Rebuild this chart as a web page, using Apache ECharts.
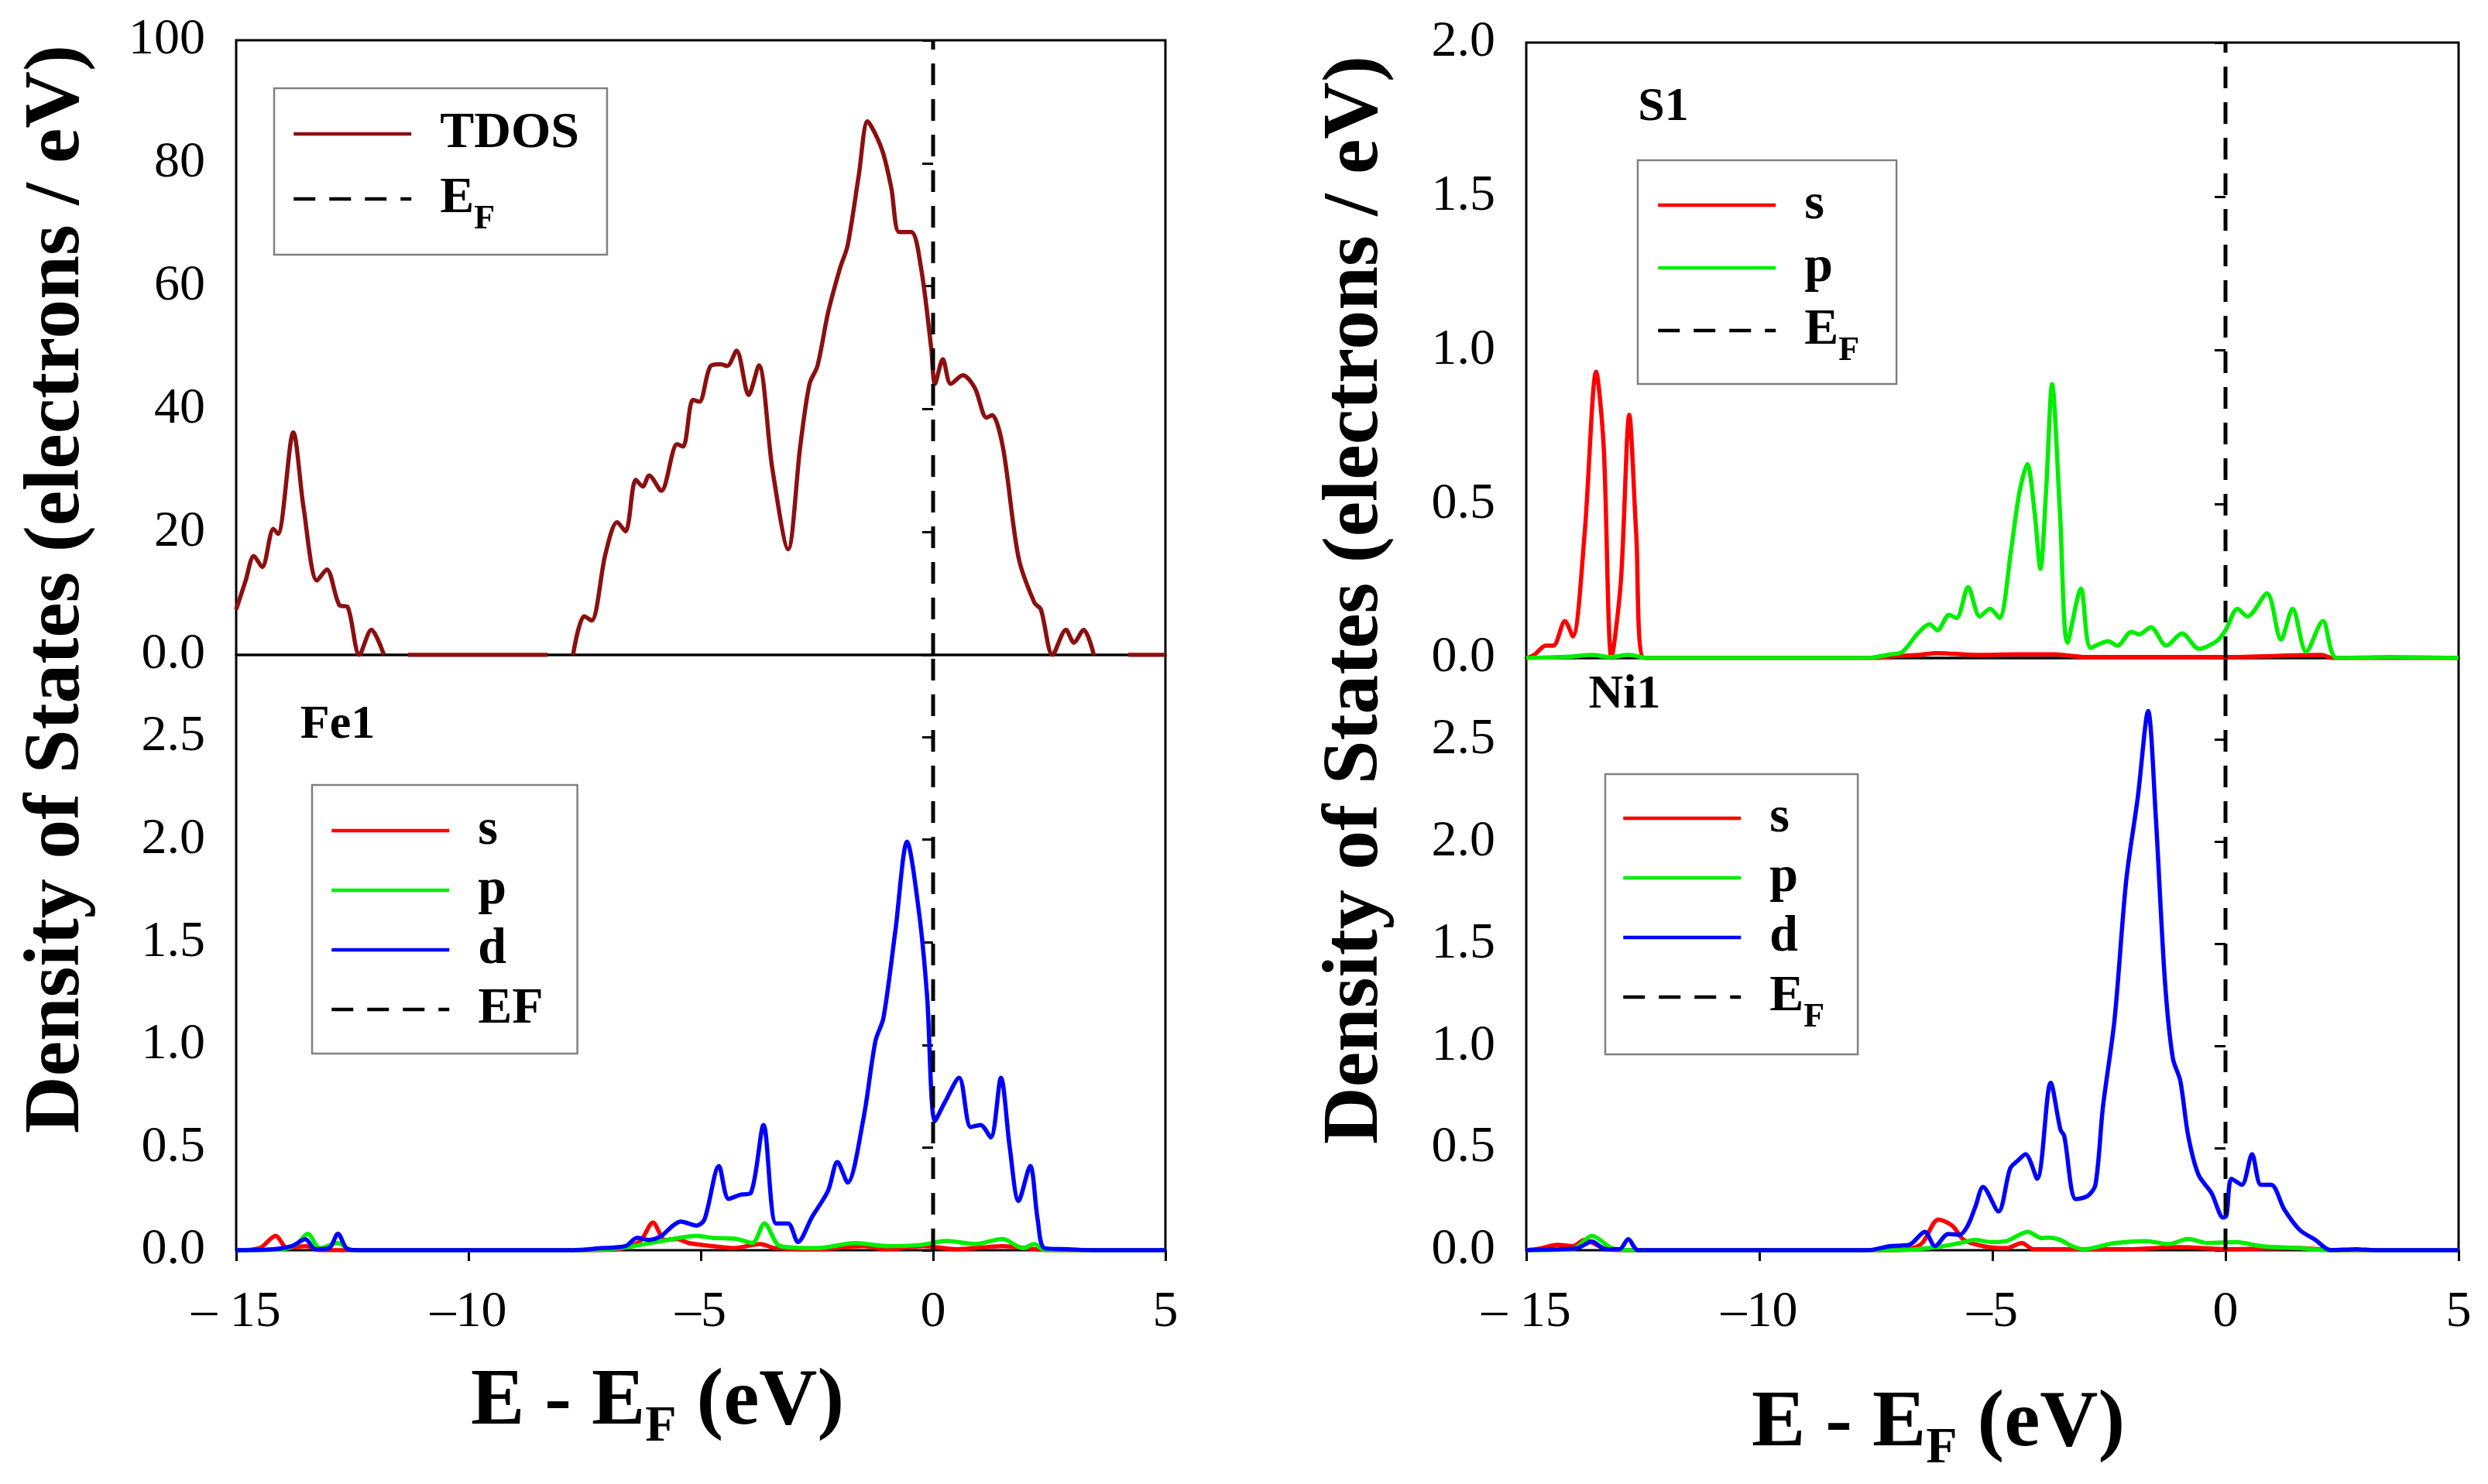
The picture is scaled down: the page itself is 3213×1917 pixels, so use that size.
<!DOCTYPE html>
<html><head><meta charset="utf-8">
<script src="https://cdn.jsdelivr.net/npm/echarts@6/dist/echarts.min.js"></script>
<style>html,body{margin:0;padding:0;background:#fff}#c{width:3213px;height:1917px}</style>
</head><body><div id="c"></div>
<script>
const FONT = '"Liberation Serif","Times New Roman",serif';

// ---- tick labels ----
const xTicks = [-15, -10, -5, 0, 5];
const xTickLabels = ['– 15', '–10', '–5', '0', '5'];
const tdosTicks = [0, 20, 40, 60, 80, 100];
const tdosTickLabels = ['0.0', '20', '40', '60', '80', '100'];
const fermiEnergy = 0;

// ---- data: [E - EF (eV), DOS] ----
const tdos = [[-15,7.4],[-14.8,12],[-14.62,16.1],[-14.44,14.3],[-14.2,20.5],[-14.1,19.7],[-13.77,36.2],[-13.55,24],[-13.26,12.1],[-13.05,13.9],[-12.78,8.1],[-12.6,7.8],[-12.35,0],[-12.09,4.1],[-11.82,0],[-11.5,null],[-11.3,0],[-8.3,0],[-8.0,null],[-7.75,0],[-7.51,6.3],[-7.35,5.6],[-7.05,16.5],[-6.8,21.6],[-6.62,20.1],[-6.4,28.5],[-6.25,27.4],[-6.11,29.2],[-5.85,26.7],[-5.51,34.3],[-5.38,33.9],[-5.17,41.5],[-5.03,41.2],[-4.79,47],[-4.57,47.3],[-4.43,47],[-4.23,49.5],[-3.97,42.3],[-3.75,47.1],[-3.46,30.3],[-3.12,17.2],[-2.86,33.9],[-2.66,44.1],[-2.49,47],[-2.26,55.7],[-2.0,63],[-1.84,66.6],[-1.6,78],[-1.41,86.8],[-1.24,84.7],[-1.07,81.5],[-0.9,76],[-0.73,68.8],[-0.47,68.8],[-0.26,63],[-0.04,49.9],[0.04,44.1],[0.21,48.1],[0.38,44.1],[0.64,45.5],[0.9,43.4],[1.15,38.6],[1.27,39],[1.5,33.9],[1.84,15.8],[2.18,8.5],[2.32,7.4],[2.57,0],[2.86,4.1],[3.03,2],[3.24,4.1],[3.46,0],[3.8,null],[4.2,0],[5,0]];

const fe1S = [[-15,0],[-14.5,0.01],[-14.15,0.07],[-13.9,0.01],[-13.5,0.02],[-13.2,0],[-7.5,0],[-6.8,0.005],[-6.5,0.02],[-6.28,0.05],[-6.03,0.135],[-5.77,0.05],[-5.51,0.055],[-5.26,0.035],[-4.74,0.02],[-4.3,0.01],[-3.72,0.03],[-3.4,0.01],[-2.5,0.005],[-1.5,0.02],[-1.0,0.005],[-0.2,0.02],[0.5,0.005],[1.5,0.02],[2.5,0],[5,0]];
const fe1P = [[-15,0],[-14,0.005],[-13.7,0.03],[-13.46,0.08],[-13.2,0.01],[-12.81,0.035],[-12.5,0],[-7.5,0],[-7.0,0.005],[-6.45,0.02],[-5.6,0.055],[-5.09,0.07],[-4.74,0.06],[-4.23,0.055],[-3.89,0.035],[-3.63,0.13],[-3.29,0.02],[-2.5,0.01],[-1.67,0.035],[-0.98,0.02],[-0.3,0.025],[0.3,0.045],[0.9,0.03],[1.5,0.055],[1.93,0.01],[2.18,0.03],[2.4,0],[5,0]];
const fe1D = [[-15,0],[-14.2,0.005],[-13.8,0.02],[-13.51,0.054],[-13.3,0.005],[-13.0,0.01],[-12.81,0.08],[-12.6,0.005],[-12.3,0],[-7.75,0],[-7.14,0.01],[-6.62,0.02],[-6.37,0.06],[-6.11,0.05],[-5.85,0.07],[-5.6,0.12],[-5.43,0.14],[-5.09,0.12],[-4.92,0.15],[-4.61,0.41],[-4.4,0.25],[-4.15,0.27],[-3.92,0.28],[-3.65,0.61],[-3.38,0.13],[-3.12,0.13],[-2.91,0.04],[-2.61,0.16],[-2.26,0.29],[-2.06,0.43],[-1.84,0.33],[-1.5,0.64],[-1.24,1.02],[-1.07,1.13],[-0.81,1.56],[-0.56,1.99],[-0.3,1.64],[-0.13,1.24],[0.04,0.63],[0.25,0.72],[0.56,0.84],[0.81,0.6],[1.02,0.61],[1.24,0.55],[1.46,0.84],[1.65,0.5],[1.84,0.24],[2.09,0.41],[2.25,0.15],[2.4,0.01],[2.9,0.005],[3.5,0],[5,0]];

const s1S = [[-15,0],[-14.83,0.01],[-14.58,0.04],[-14.42,0.04],[-14.17,0.12],[-14.0,0.07],[-13.75,0.4],[-13.5,0.93],[-13.34,0.69],[-13.17,0],[-12.97,0.25],[-12.79,0.79],[-12.64,0.4],[-12.47,0],[-7.5,0],[-7.18,0.005],[-6.6,0.01],[-6.18,0.016],[-5.35,0.01],[-4.5,0.012],[-3.68,0.012],[-3.0,0.003],[0,0.003],[2.05,0.01],[2.3,0],[5,0]];
const s1P = [[-15,0],[-14,0.005],[-13.59,0.01],[-13.2,0.003],[-12.8,0.01],[-12.4,0],[-7.68,0],[-7.18,0.012],[-6.93,0.02],[-6.6,0.08],[-6.35,0.11],[-6.18,0.09],[-5.93,0.14],[-5.77,0.13],[-5.52,0.23],[-5.27,0.135],[-5.05,0.16],[-4.85,0.13],[-4.6,0.35],[-4.43,0.53],[-4.25,0.63],[-4.1,0.48],[-3.97,0.29],[-3.85,0.54],[-3.72,0.89],[-3.55,0.47],[-3.39,0.05],[-3.1,0.225],[-2.89,0.033],[-2.52,0.055],[-2.32,0.04],[-2.02,0.085],[-1.85,0.077],[-1.6,0.1],[-1.27,0.04],[-0.93,0.08],[-0.57,0.03],[-0.19,0.055],[0,0.09],[0.26,0.16],[0.47,0.135],[0.89,0.21],[1.19,0.06],[1.44,0.16],[1.73,0.02],[2.09,0.12],[2.39,0],[3.5,0.003],[5,0]];

const ni1S = [[-15,0],[-14.67,0.01],[-14.34,0.027],[-14.0,0.02],[-13.75,0.05],[-13.34,0.01],[-13.0,0],[-7.03,0],[-6.53,0.03],[-6.16,0.15],[-5.86,0.12],[-5.61,0.05],[-5.2,0.02],[-4.7,0.01],[-4.37,0.035],[-4.12,0.005],[-2,0.005],[-1,0.015],[0,0.005],[1.5,0.01],[2.5,0],[5,0]];
const ni1P = [[-15,0],[-14,0.005],[-13.59,0.07],[-13.17,0.01],[-12.8,0],[-7.03,0],[-6.2,0.015],[-5.7,0.035],[-5.37,0.05],[-5.03,0.04],[-4.7,0.045],[-4.24,0.09],[-3.95,0.06],[-3.79,0.062],[-3.54,0.05],[-3.29,0.02],[-3.04,0.005],[-2.38,0.035],[-1.71,0.045],[-1.22,0.03],[-0.8,0.055],[-0.38,0.035],[0.23,0.04],[0.76,0.02],[1.59,0.01],[2.26,0],[5,0]];
const ni1D = [[-15,0],[-14.3,0.005],[-13.9,0.01],[-13.59,0.043],[-13.3,0.005],[-13.0,0.005],[-12.81,0.054],[-12.6,0],[-7.69,0],[-7.19,0.02],[-6.78,0.027],[-6.45,0.09],[-6.23,0.02],[-5.95,0.08],[-5.7,0.076],[-5.53,0.12],[-5.37,0.21],[-5.2,0.31],[-4.87,0.19],[-4.62,0.4],[-4.45,0.44],[-4.29,0.47],[-4.04,0.35],[-3.75,0.82],[-3.54,0.59],[-3.46,0.56],[-3.21,0.25],[-2.96,0.265],[-2.79,0.32],[-2.63,0.7],[-2.38,1.13],[-2.13,1.81],[-1.88,2.22],[-1.66,2.64],[-1.5,2.14],[-1.3,1.32],[-1.13,0.94],[-0.97,0.83],[-0.8,0.56],[-0.58,0.37],[-0.3,0.28],[-0.05,0.16],[0.02,0.17],[0.13,0.35],[0.35,0.32],[0.57,0.47],[0.76,0.32],[0.98,0.32],[1.26,0.2],[1.59,0.1],[1.93,0.05],[2.26,0],[2.8,0.005],[3.2,0],[5,0]];

// ---- styling ----
const C_TDOS = '#8b1010', C_S = '#ff0000', C_P = '#00ee00', C_D = '#0000ff';
const TICK_FS = 66, LEG_FS = 66, LW = 5.5, LEG_LH = 98;

const chart = echarts.init(document.getElementById('c'));

const grids = [
  {left: 305, top: 52, width: 1200, height: 794},
  {left: 305, top: 846, width: 1200, height: 769},
  {left: 1971, top: 55, width: 1204, height: 795},
  {left: 1971, top: 850, width: 1204, height: 765}
].map(g => Object.assign({show: true, borderColor: '#000', borderWidth: 3, backgroundColor: 'transparent'}, g));

function xAx(i, bottom) {
  return {
    type: 'value', gridIndex: i, min: -15, max: 5, interval: 5,
    axisLine: {show: false},
    axisTick: {show: bottom, inside: false, length: 14, lineStyle: {color: '#000', width: 3}},
    axisLabel: {show: bottom, margin: 48, color: '#000', fontFamily: FONT, fontSize: TICK_FS,
      formatter: v => { const k = xTicks.indexOf(v); return k >= 0 ? xTickLabels[k] : ''; }},
    splitLine: {show: false}
  };
}
function yAx(i, max, interval, fmt) {
  return {
    type: 'value', gridIndex: i, min: 0, max: max, interval: interval,
    axisLine: {show: false},
    axisTick: {show: true, inside: false, length: 14, lineStyle: {color: '#000', width: 3}},
    axisLabel: {margin: 40, color: '#000', fontFamily: FONT, fontSize: TICK_FS, showMaxLabel: (max % interval) < 1e-9 || Math.abs(max % interval - interval) < 1e-9, formatter: fmt},
    splitLine: {show: false}
  };
}
const fmt1 = v => v.toFixed(1);
const fmtT = v => { const k = tdosTicks.indexOf(v); return k >= 0 ? tdosTickLabels[k] : ''; };

function ser(name, data, color, idx, z) {
  return {type: 'line', name: name, data: data, xAxisIndex: idx, yAxisIndex: idx,
    symbol: 'none', showSymbol: false, smooth: 0.3, clip: true, connectNulls: false,
    lineStyle: {color: color, width: LW}, itemStyle: {color: color}, z: z || 2, animation: false};
}
function efSer(name, idx, top) {
  return {type: 'line', name: name, data: [[fermiEnergy, 0], [fermiEnergy, top]], xAxisIndex: idx, yAxisIndex: idx,
    symbol: 'none', showSymbol: false, lineStyle: {color: '#000', width: 5, type: [28, 18]},
    itemStyle: {color: '#000'}, z: 5, animation: false};
}

const legRich = {
  m: {fontFamily: FONT, fontWeight: 'bold', fontSize: LEG_FS, lineHeight: LEG_LH, color: '#000'},
  sub: {fontFamily: FONT, fontWeight: 'bold', fontSize: 44, color: '#000', verticalAlign: 'bottom'}
};
function legend(names, left, top, gap, padding) {
  return {
    data: names, left: left, top: top, orient: 'vertical', itemWidth: 152, itemHeight: 20, itemGap: gap,
    padding: padding, borderColor: '#808080', borderWidth: 2.5, backgroundColor: '#fff',
    selectedMode: false,
    itemStyle: {opacity: 0},
    lineStyle: {width: 4.5},
    formatter: n => n === 'EF_sub' ? '{m|E}{sub|F}' : '{m|' + n + '}',
    textStyle: {fontFamily: FONT, fontWeight: 'bold', fontSize: LEG_FS, lineHeight: LEG_LH, color: '#000', padding: [0, 0, 0, 32], rich: legRich}
  };
}

function txt(x, y, text, fs, rot) {
  return {type: 'text', x: x, y: y, rotation: rot || 0, z: 100,
    style: {text: text, fontFamily: FONT, fontWeight: 'bold', fontSize: fs, fill: '#000', align: 'center', verticalAlign: 'middle'}};
}
const titleRich = {
  m: {fontFamily: FONT, fontWeight: 'bold', fontSize: 104, lineHeight: 130, fill: '#000'},
  sub: {fontFamily: FONT, fontWeight: 'bold', fontSize: 66, fill: '#000', verticalAlign: 'bottom'}
};
function xTitle(x, y) {
  return {type: 'text', x: x, y: y, z: 100,
    style: {text: '{m|E - E}{sub|F}{m| (eV)}', rich: titleRich, align: 'center', verticalAlign: 'middle'}};
}
const yTitleText = 'Density of States (electrons / eV)';

chart.setOption({
  backgroundColor: '#fff',
  animation: false,
  grid: grids,
  xAxis: [xAx(0, false), xAx(1, true), xAx(2, false), xAx(3, true)],
  yAxis: [yAx(0, 100, 20, fmtT), yAx(1, 2.9, 0.5, fmt1), yAx(2, 2.0, 0.5, fmt1), yAx(3, 2.9, 0.5, fmt1)],
  legend: [
    legend(['TDOS', 'EF_sub'], 354, 114, -14, [10, 36, 23, 23]),
    legend(['s', 'p', 'd', 'EF'], 403, 1014, -21, [10, 44, 8, 23]),
    legend(['s', 'p', 'EF_sub'], 2115, 207, -17, [9, 48, 20, 24]),
    legend(['s', 'p', 'd', 'EF_sub'], 2073, 1000, -21, [8, 43, 25, 21])
  ],
  series: [
    ser('TDOS', tdos, C_TDOS, 0),
    efSer('EF_sub', 0, 100),
    ser('s', fe1S, C_S, 1, 3),
    ser('p', fe1P, C_P, 1, 3),
    ser('d', fe1D, C_D, 1, 3),
    efSer('EF', 1, 2.9),
    ser('s', s1S, C_S, 2, 3),
    ser('p', s1P, C_P, 2, 3),
    efSer('EF_sub', 2, 2.0),
    ser('s', ni1S, C_S, 3, 3),
    ser('p', ni1P, C_P, 3, 3),
    ser('d', ni1D, C_D, 3, 3),
    efSer('EF_sub', 3, 2.9)
  ],
  graphic: [
    txt(75, 761, yTitleText, 102, Math.PI / 2),
    txt(1752, 775, yTitleText, 102, Math.PI / 2),
    xTitle(849, 1812),
    xTitle(2503, 1840),
    txt(436, 937, 'Fe1', 62),
    txt(2148, 139, 'S1', 62),
    txt(2098, 898, 'Ni1', 62)
  ]
});
</script></body></html>
